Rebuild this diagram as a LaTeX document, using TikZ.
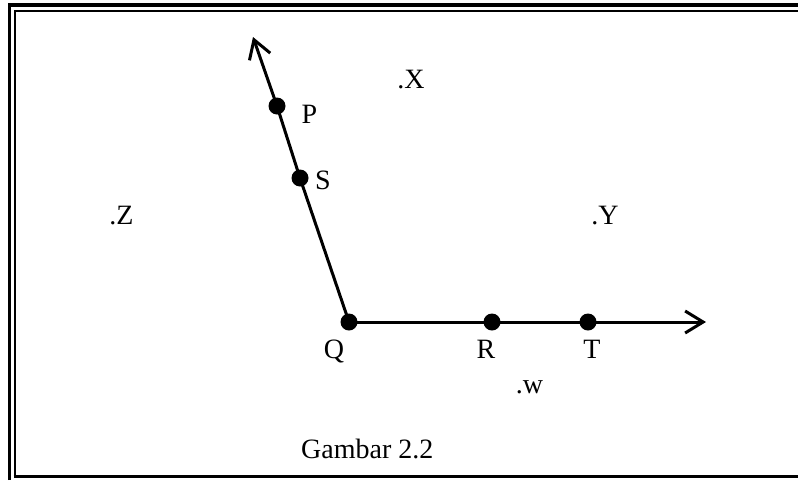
\documentclass[tikz,border=0pt]{standalone}
\usepackage{fontspec}
\setmainfont{Liberation Serif}
\usetikzlibrary{arrows.meta}
\begin{document}
\begin{tikzpicture}[x=1pt,y=-1pt,
  dot/.style={circle,fill=black,inner sep=0pt,minimum size=17pt},
  lbl/.style={anchor=base,inner sep=0pt,font=\fontsize{28}{30}\selectfont},
  ray/.style={line width=3pt,-{Straight Barb[length=18pt,width=22pt,line width=3pt]}},
  seg/.style={line width=3pt}]
\useasboundingbox (0,0) rectangle (798,480);
% frame
\draw[line width=3.2pt] (9.5,480) -- (9.5,5) -- (798,5);
\draw[line width=2pt] (14.5,476.5) -- (14.5,10.5) -- (798,10.5);
\draw[line width=3.2pt] (13.5,476.5) -- (798,476.5);
% points
\node[dot] (Q) at (349,322) {};
\node[dot] (S) at (300,178) {};
\node[dot] (P) at (277,106) {};
\node[dot] (R) at (492,322) {};
\node[dot] (T) at (588,322) {};
\coordinate (A) at (253,37);
\coordinate (B) at (706,322);
\draw[seg] (Q.center) -- (S.center) -- (P.center);
\draw[ray] (P.center) -- (A);
\draw[seg] (Q.center) -- (T.center);
\draw[ray] (T.center) -- (B);
% labels
\node[lbl] (lP) at (309.5,123) {P};
\node[lbl] (lS) at (323,189) {S};
\node[lbl] (lX) at (411,88) {.X};
\node[lbl] (lZ) at (121.5,224) {.Z};
\node[lbl] (lY) at (605,224) {.Y};
\node[lbl] (lQ) at (334,358) {Q};
\node[lbl] (lR) at (486,358) {R};
\node[lbl] (lT) at (592,358) {T};
\node[lbl] (lw) at (529.5,393) {.w};
\node[lbl,anchor=base west] (cap) at (301,458) {Gambar 2.2};
\end{tikzpicture}
\end{document}
